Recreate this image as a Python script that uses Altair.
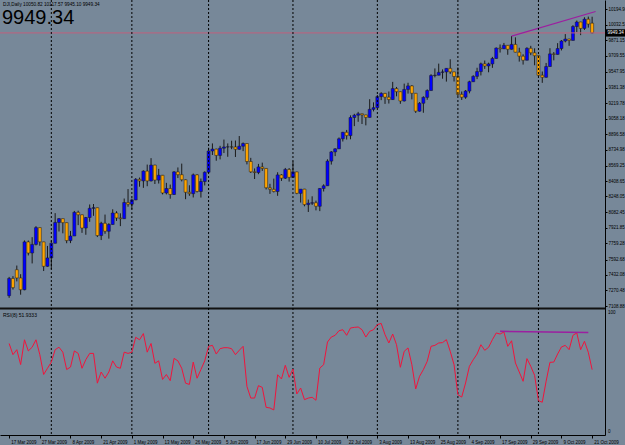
import altair as alt
import pandas as pd

# ---------------- data ----------------
tick_labels = ["17 Mar 2009", "27 Mar 2009", "8 Apr 2009", "21 Apr 2009", "1 May 2009",
               "13 May 2009", "26 May 2009", "5 Jun 2009", "17 Jun 2009", "29 Jun 2009",
               "10 Jul 2009", "22 Jul 2009", "3 Aug 2009", "13 Aug 2009", "25 Aug 2009",
               "4 Sep 2009", "17 Sep 2009", "29 Sep 2009", "9 Oct 2009", "21 Oct 2009"]
tick_bars = [0, 8, 16, 24, 32, 40, 48, 56, 64, 72, 80, 88, 96, 104, 112, 120, 128, 136, 144, 152]
month_start_bars = [11, 32, 52, 74, 96, 117, 138]

price_labels = [10194.90, 10032.52, 9871.15, 9709.55, 9547.95, 9381.38, 9219.78, 9058.18,
                8896.58, 8734.98, 8569.25, 8408.65, 8248.05, 8082.45, 7921.85, 7759.28,
                7592.68, 7432.08, 7270.48, 7108.88]

opens = [
    7216.97, 7395.70, 7486.58, 7400.80, 7278.38, 7775.86, 7660.21, 7749.81, 7924.56, 7776.18, 7522.02,
    7608.92, 7761.60, 7978.08, 8017.59, 7975.85, 7789.56, 7837.11, 8083.38, 8057.81, 7920.18, 8029.62,
    8125.43, 8131.33, 7841.73, 7969.56, 7886.57, 7957.06, 8076.29, 8025.00, 8016.95, 8185.73,
    8168.12, 8212.41, 8426.74, 8410.65, 8512.28, 8409.85, 8574.65, 8418.77, 8469.11, 8284.89, 8331.32,
    8268.64, 8504.08, 8474.85, 8422.04, 8292.13, 8277.32, 8473.49, 8300.02, 8403.80,
    8500.33, 8721.44, 8740.87, 8675.24, 8750.24, 8763.13, 8764.49, 8763.06, 8739.02, 8770.92, 8799.26,
    8612.13, 8504.67, 8497.18, 8555.60, 8539.73, 8339.01, 8322.91, 8299.86, 8472.40, 8438.39, 8529.38,
    8447.00, 8504.06, 8280.74, 8324.87, 8163.60, 8178.41, 8183.17, 8146.52, 8331.68, 8359.49, 8616.21,
    8711.82, 8743.94, 8848.15, 8915.94, 8881.26, 9069.29, 9093.24, 9108.51, 9096.72, 9070.72, 9154.46,
    9171.61, 9286.56, 9320.19, 9280.97, 9256.26, 9370.07, 9337.95, 9241.45, 9361.61, 9398.19, 9321.40,
    9135.34, 9217.94, 9279.16, 9350.05, 9505.96, 9509.28, 9539.29, 9543.52, 9580.63, 9544.20,
    9496.28, 9310.60, 9280.67, 9344.61, 9441.27, 9497.34, 9547.22, 9627.48, 9605.41, 9626.80, 9683.41,
    9791.71, 9783.92, 9820.20, 9778.86, 9829.87, 9748.55, 9707.44, 9665.19, 9789.36, 9742.20,
    9712.28, 9509.28, 9487.67, 9599.75, 9731.25, 9725.58, 9786.87, 9864.94, 9885.80, 9871.06, 10015.86,
    10062.94, 9995.91, 10092.19, 10050.82]
highs = [
    7412, 7420, 7530, 7440, 7791, 7790, 7825, 7940, 7925, 7777, 7734,
    7787, 8075, 8024, 8018, 7976, 7890, 8098, 8100, 8060, 8035, 8165,
    8170, 8132, 7985, 8060, 7970, 8115, 8095, 8073, 8227, 8325,
    8226, 8440, 8445, 8520, 8580, 8647, 8578, 8535, 8472, 8390, 8372,
    8512, 8550, 8590, 8425, 8365, 8487, 8481, 8435, 8510,
    8755, 8800, 8745, 8775, 8840, 8800, 8828, 8830, 8877, 8810, 8802,
    8650, 8540, 8587, 8600, 8542, 8380, 8434, 8500, 8480, 8545, 8544,
    8611, 8506, 8326, 8327, 8216, 8250, 8205, 8334, 8375, 8635, 8720,
    8750, 8862, 8920, 8940, 9092, 9108, 9128, 9110, 9098, 9260, 9227,
    9304, 9332, 9325, 9340, 9440, 9387, 9340, 9422, 9431, 9406, 9323,
    9230, 9290, 9362, 9520, 9580, 9630, 9570, 9582, 9675, 9546,
    9590, 9340, 9355, 9452, 9509, 9587, 9640, 9662, 9640, 9700, 9798,
    9829, 9845, 9822, 9917, 9903, 9795, 9727, 9800, 9815, 9789,
    9714, 9548, 9637, 9790, 9750, 9843, 9875, 9937, 9888, 10030, 10078,
    10065, 10112, 10119, 10117.57]
lows = [
    7194, 7280, 7365, 7227, 7273, 7635, 7552, 7739, 7736, 7473, 7518,
    7493, 7760, 7884, 7865, 7762, 7763, 7837, 7950, 7870, 7850, 7985,
    8047, 7826, 7795, 7860, 7810, 7955, 7994, 7940, 8016, 8142,
    8115, 8210, 8350, 8338, 8355, 8405, 8378, 8383, 8270, 8270, 8225,
    8265, 8440, 8405, 8220, 8255, 8238, 8290, 8237, 8363,
    8498, 8680, 8620, 8634, 8700, 8661, 8740, 8659, 8735, 8720, 8582,
    8493, 8430, 8480, 8514, 8321, 8275, 8290, 8255, 8410, 8430, 8403,
    8445, 8272, 8185, 8146, 8087, 8160, 8104, 8096, 8300, 8359, 8580,
    8668, 8743, 8820, 8840, 8843, 8980, 9025, 9002, 8988, 9070, 9133,
    9170, 9250, 9211, 9215, 9255, 9290, 9212, 9236, 9318, 9258, 9117,
    9131, 9119, 9254, 9348, 9487, 9508, 9473, 9443, 9523, 9444,
    9293, 9252, 9264, 9321, 9440, 9469, 9507, 9575, 9540, 9586, 9682,
    9745, 9782, 9722, 9776, 9747, 9651, 9620, 9663, 9718, 9613,
    9500, 9430, 9485, 9599, 9664, 9724, 9767, 9851, 9815, 9870, 9958,
    9926, 9980, 10004, 9945.10]
closes = [
    7395.70, 7300.00, 7400.80, 7278.38, 7775.86, 7660.21, 7749.81, 7924.56, 7776.18, 7522.02, 7608.92,
    7761.60, 7978.08, 8017.59, 7975.85, 7789.56, 7837.11, 8083.38, 8057.81, 7920.18, 8029.62, 8125.43,
    8131.33, 7841.73, 7969.56, 7886.57, 7957.06, 8076.29, 8025.00, 8016.95, 8185.73, 8168.12,
    8212.41, 8426.74, 8410.65, 8512.28, 8409.85, 8574.65, 8418.77, 8469.11, 8284.89, 8331.32, 8268.64,
    8504.08, 8474.85, 8422.04, 8292.13, 8277.32, 8473.49, 8300.02, 8403.80, 8500.33,
    8721.44, 8740.87, 8675.24, 8750.24, 8763.13, 8764.49, 8763.06, 8739.02, 8770.92, 8799.26, 8612.13,
    8504.67, 8497.18, 8555.60, 8539.73, 8339.01, 8322.91, 8299.86, 8472.40, 8438.39, 8529.38, 8447.00,
    8504.06, 8280.74, 8324.87, 8163.60, 8178.41, 8183.17, 8146.52, 8331.68, 8359.49, 8616.21, 8711.82,
    8743.94, 8848.15, 8915.94, 8881.26, 9069.29, 9093.24, 9108.51, 9096.72, 9070.72, 9154.46, 9171.61,
    9286.56, 9320.19, 9280.97, 9256.26, 9370.07, 9337.95, 9241.45, 9361.61, 9398.19, 9321.40, 9135.34,
    9217.94, 9279.16, 9350.05, 9505.96, 9509.28, 9539.29, 9543.52, 9580.63, 9544.20, 9496.28,
    9310.60, 9280.67, 9344.61, 9441.27, 9497.34, 9547.22, 9627.48, 9605.41, 9626.80, 9683.41, 9791.71,
    9783.92, 9820.20, 9778.86, 9829.87, 9748.55, 9707.44, 9665.19, 9789.36, 9742.20, 9712.28,
    9509.28, 9487.67, 9599.75, 9731.25, 9725.58, 9786.87, 9864.94, 9885.80, 9871.06, 10015.86, 10062.94,
    9995.91, 10092.19, 10041.48, 9949.34]

rsi_values = [
    73, 64, 68, 56, 76, 67, 70, 76, 64, 48,
    53, 58, 68, 70, 66, 52, 54, 67, 65, 53,
    60, 65, 65, 41, 50, 45, 50, 59, 54, 53,
    66, 65, 66, 78, 76, 81, 66, 73, 57, 59,
    44, 48, 43, 61, 59, 53, 41, 40, 58, 45,
    52, 59, 70.7, 71.5, 64.5, 68.8, 69.6, 69.6, 68.8, 64,
    67.5, 70.7, 38.4, 29, 29, 39, 37.6, 21.5, 21, 19.4,
    47.8, 44.4, 55.4, 45.7, 52.4, 32.3, 37.1, 27.7, 29, 29.6,
    27.2, 53.2, 55.9, 74.2, 78.2, 79.6, 83.3, 84.1, 79.6, 85.5,
    86, 86.3, 84.1, 78.2, 82.8, 84.1, 88.2, 89.2, 80.1, 73.4,
    80.6, 72, 53.8, 66.7, 69.4, 55.9, 36.3, 46.5, 51.9, 58.6,
    70.7, 71.5, 73.4, 73.7, 76.1, 66.7, 55.9, 31.7, 29.8, 41.1,
    54.6, 59.9, 64.5, 72, 67.5, 69.9, 76.1, 81.5, 80.6, 82.3,
    70.7, 75.2, 57.3, 50, 42.5, 60.8, 54.6, 47.3, 26.9, 25.6,
    42.5, 57.8, 58, 64.5, 70.2, 71.5, 68, 79.6, 81.5, 68,
    74.8, 65.9, 51.93]

bid_price = 9949.34
price_trend_bars = [131, 152.9]
price_trend_values = [9917, 10172]
rsi_trend_bars = [128, 151]
rsi_trend_values = [82.8, 81.8]

# ---------------- frames ----------------
n = len(closes)
df = pd.DataFrame({"bar": list(range(n)), "open": opens, "high": highs, "low": lows,
                   "close": closes, "rsi": rsi_values})
df["dir"] = ["up" if c >= o else "down" for o, c in zip(opens, closes)]
months_df = pd.DataFrame({"bar": month_start_bars})
bid_df = pd.DataFrame({"p": [bid_price], "hi": [bid_price + 38], "lo": [bid_price - 38]})
ptrend_df = pd.DataFrame({"bar": price_trend_bars, "p": price_trend_values})
rtrend_df = pd.DataFrame({"bar": rsi_trend_bars, "v": rsi_trend_values})

BG = "#778899"
FONT = "Liberation Sans"
TREND = "#9c1fa0"
AX_FS = 4.5

label_expr = "[" + ",".join("'%s'" % s for s in tick_labels) + "][round(datum.value/8)]"

x_scale = alt.Scale(domain=[-1.077, 154.05], nice=False, zero=False)
price_scale = alt.Scale(domain=[5767.6, 10291.6], nice=False, zero=False)
rsi_scale = alt.Scale(domain=[-0.8, 350.0], nice=False, zero=False)

x_axis = alt.Axis(orient="bottom", values=tick_bars, labelExpr=label_expr, labelAlign="left",
                  labelBaseline="top", labelPadding=1.5, labelOffset=1.5, tickSize=3,
                  labelFontSize=AX_FS, labelOverlap=False, labelBound=False, labelFlush=False,
                  title=None, grid=False, domainColor="#000000", tickColor="#000000",
                  labelColor="#000000", labelFont=FONT)
p_axis = alt.Axis(orient="right", values=price_labels, format=".2f", tickSize=2,
                  labelPadding=1, labelFontSize=AX_FS, labelOverlap=False, labelBound=False,
                  title=None, grid=False, domainColor="#000000", tickColor="#000000",
                  labelColor="#000000", labelFont=FONT)


def X(f):
    return alt.X(f, scale=x_scale, axis=x_axis)


def PY(f):
    return alt.Y(f, scale=price_scale, axis=p_axis)


def RY(f):
    return alt.Y(f, scale=rsi_scale, axis=None)


# ---------------- price panel ----------------
wicks = alt.Chart(df).mark_rule(color="#1a1a1a", strokeWidth=1).encode(
    x=X("bar:Q"), y=PY("low:Q"), y2="high:Q")
bodies = alt.Chart(df).mark_bar(width=3, stroke="#1a1a1a", strokeWidth=0.5).encode(
    x=X("bar:Q"), y=PY("open:Q"), y2="close:Q",
    color=alt.Color("dir:N", scale=alt.Scale(domain=["up", "down"], range=["#0000ff", "#ffa500"]),
                    legend=None))
bid_line = alt.Chart(bid_df).mark_rule(color="#c0607e", strokeWidth=1).encode(y=PY("p:Q"))
panel_sep = alt.Chart(pd.DataFrame({"p": [7083.0]})).mark_rule(color="#111111", strokeWidth=2).encode(
    y=PY("p:Q"))
ptrend = alt.Chart(ptrend_df).mark_line(color=TREND, strokeWidth=1.3, clip=True).encode(
    x=X("bar:Q"), y=PY("p:Q"))
bid_box = alt.Chart(bid_df).mark_rect(color="#000000").encode(
    x=alt.value(606), x2=alt.value(630), y=PY("hi:Q"), y2="lo:Q")
bid_text = alt.Chart(bid_df).mark_text(text="9949.34", color="#ffffff", fontSize=AX_FS, font=FONT,
                                       align="left", baseline="middle").encode(
    x=alt.value(607.5), y=PY("p:Q"))

price_layer = alt.layer(wicks, bodies, bid_line, panel_sep, ptrend, bid_box, bid_text)

# ---------------- RSI panel ----------------
rsi_line = alt.Chart(df).mark_line(color="#f0143c", strokeWidth=1).encode(
    x=X("bar:Q"), y=RY("rsi:Q"))
rtrend = alt.Chart(rtrend_df).mark_line(color=TREND, strokeWidth=1.5).encode(
    x=X("bar:Q"), y=RY("v:Q"))
rsi_top = alt.Chart(pd.DataFrame({"v": [100], "t": ["100"]})).mark_text(
    fontSize=AX_FS, font=FONT, align="left", baseline="top", color="#000000").encode(
    x=alt.value(608), y=RY("v:Q"), text="t:N")
rsi_bot = alt.Chart(pd.DataFrame({"v": [0], "t": ["0"]})).mark_text(
    fontSize=AX_FS, font=FONT, align="left", baseline="bottom", color="#000000").encode(
    x=alt.value(608), y=RY("v:Q"), text="t:N")
rsi_layer = alt.layer(rsi_line, rtrend, rsi_top, rsi_bot)

# ---------------- common ----------------
seps = alt.Chart(months_df).mark_rule(color="#000000", strokeDash=[2, 2], strokeWidth=1).encode(
    x=X("bar:Q"))
header = alt.Chart(pd.DataFrame({"t": ["DJI,Daily  10050.82 10117.57 9945.10 9949.34"]})).mark_text(
    fontSize=4.7, font=FONT, align="left", baseline="middle", color="#000000").encode(
    x=alt.value(3), y=alt.value(4.5), text="t:N")
big = alt.Chart(pd.DataFrame({"t": ["9949.34"]})).mark_text(
    fontSize=20, font=FONT, align="left", baseline="alphabetic", color="#000000").encode(
    x=alt.value(2), y=alt.value(23.5), text="t:N")
rsi_title = alt.Chart(pd.DataFrame({"t": ["RSI(8) 51.9333"]})).mark_text(
    fontSize=5, font=FONT, align="left", baseline="middle", color="#000000").encode(
    x=alt.value(3), y=alt.value(315), text="t:N")

chart = alt.layer(price_layer, seps, rsi_layer, header, big, rsi_title).resolve_scale(
    y="independent").properties(
    width=605, height=435,
    autosize=alt.AutoSizeParams(type="none"),
    padding={"left": 0, "top": 0, "right": 20, "bottom": 10},
).configure(background=BG).configure_view(stroke=None, fill=BG)

chart.save("out.html", embed_options={"renderer": "svg", "actions": False})
